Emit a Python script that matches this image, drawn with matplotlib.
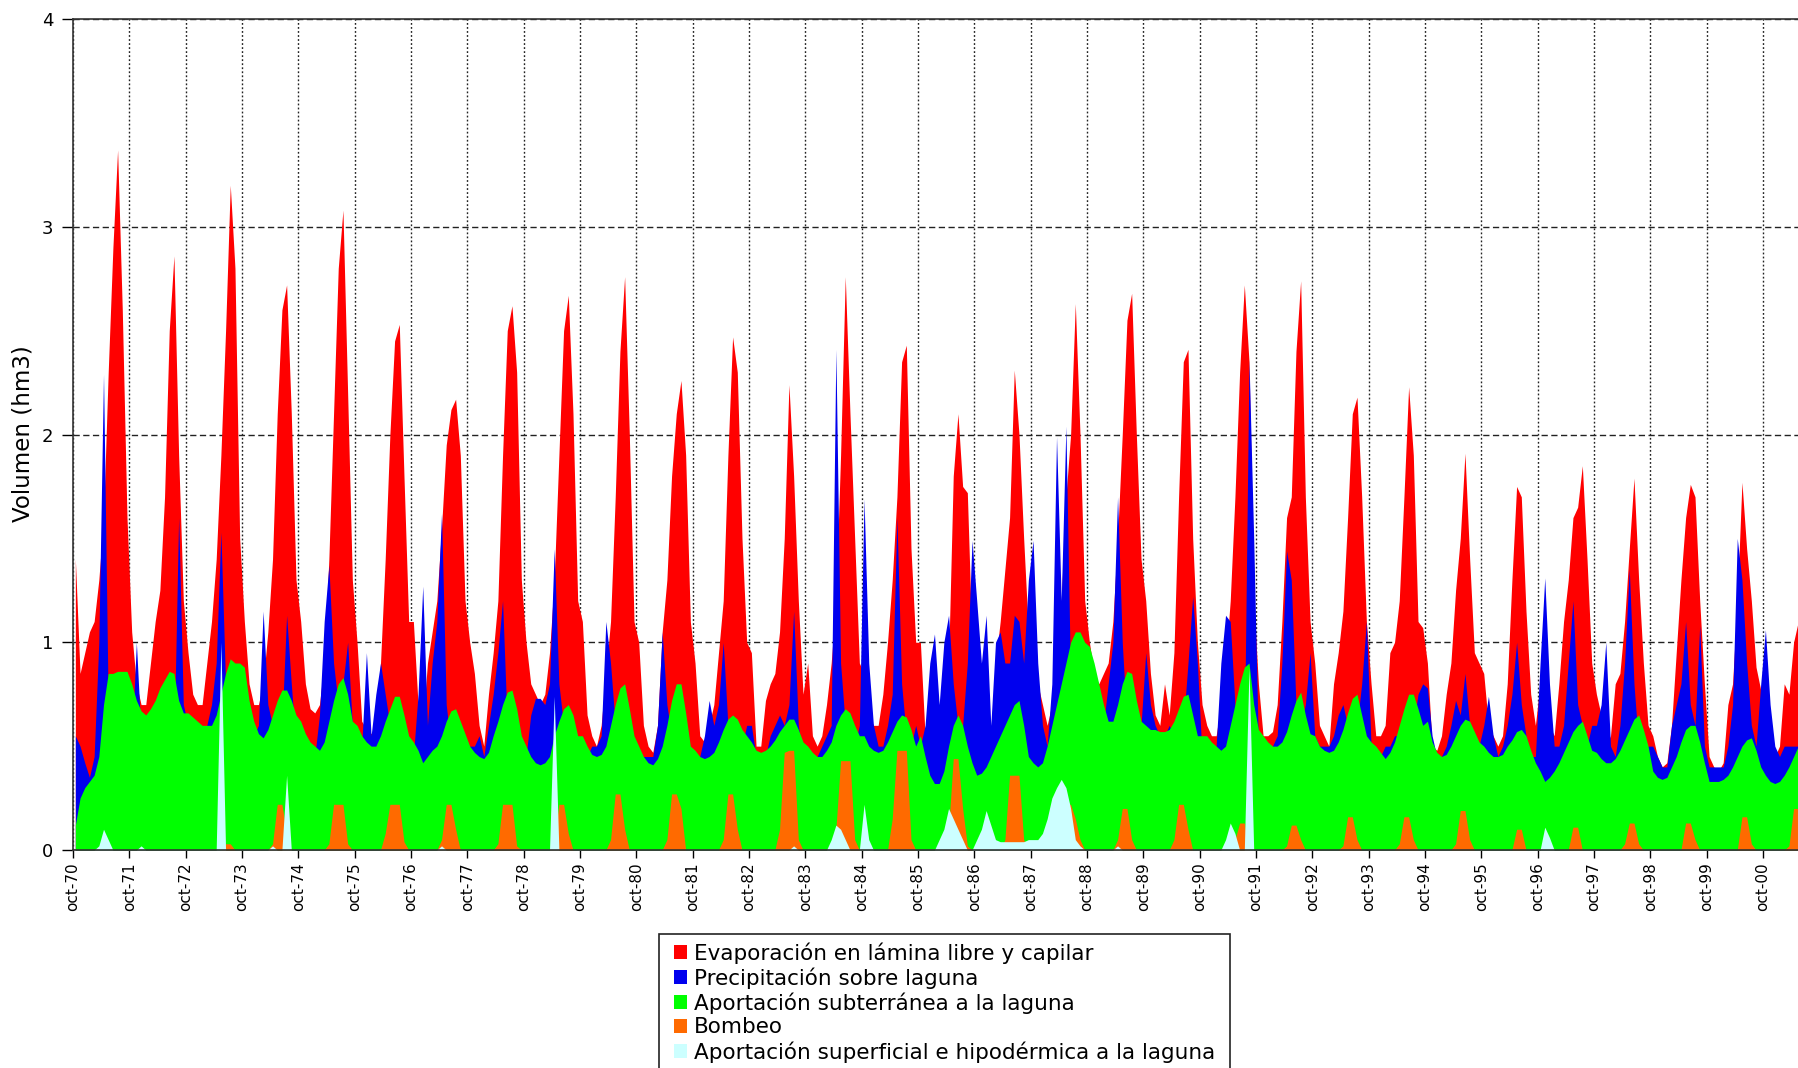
import numpy as np
import matplotlib
matplotlib.use("Agg")
import matplotlib.pyplot as plt
from matplotlib.patches import Patch, Rectangle

# Monthly volumes (hm3) per hydrological year, Oct..Sep, starting oct-1970
evaporacion = [
    1.40, 0.85, 0.95, 1.05, 1.10, 1.30, 1.60, 2.30, 2.90, 3.37, 2.60, 1.60,  # 70-71
    1.05, 0.80, 0.70, 0.70, 0.90, 1.10, 1.25, 1.70, 2.50, 2.86, 1.90, 1.20,  # 71-72
    0.95, 0.75, 0.70, 0.70, 0.90, 1.10, 1.40, 1.90, 2.50, 3.20, 2.80, 1.50,  # 72-73
    1.10, 0.80, 0.70, 0.70, 0.80, 1.05, 1.40, 2.10, 2.60, 2.72, 2.10, 1.30,  # 73-74
    1.10, 0.80, 0.68, 0.66, 0.70, 0.90, 1.40, 2.10, 2.80, 3.08, 2.20, 1.30,  # 74-75
    1.00, 0.62, 0.58, 0.56, 0.60, 0.90, 1.40, 2.00, 2.45, 2.53, 1.80, 1.10,  # 75-76
    1.10, 0.70, 0.60, 0.90, 1.05, 1.20, 1.55, 1.95, 2.12, 2.17, 1.90, 1.20,  # 76-77
    1.00, 0.85, 0.60, 0.50, 0.75, 0.95, 1.20, 1.90, 2.50, 2.62, 2.30, 1.30,  # 77-78
    1.00, 0.80, 0.75, 0.70, 0.75, 0.95, 1.30, 1.90, 2.50, 2.67, 2.10, 1.20,  # 78-79
    1.10, 0.65, 0.55, 0.50, 0.60, 0.85, 1.10, 1.70, 2.40, 2.76, 2.00, 1.10,  # 79-80
    1.00, 0.60, 0.50, 0.47, 0.60, 1.05, 1.30, 1.80, 2.10, 2.26, 1.90, 1.10,  # 80-81
    0.90, 0.55, 0.52, 0.60, 0.70, 0.95, 1.20, 1.90, 2.47, 2.30, 1.50, 1.00,  # 81-82
    0.95, 0.50, 0.50, 0.72, 0.80, 0.85, 1.05, 1.50, 2.24, 1.80, 1.20, 0.75,  # 82-83
    0.90, 0.55, 0.50, 0.55, 0.70, 0.90, 1.20, 1.90, 2.76, 2.10, 1.50, 0.90,  # 83-84
    0.85, 0.65, 0.60, 0.60, 0.75, 1.00, 1.30, 1.70, 2.35, 2.43, 1.45, 1.00,  # 84-85
    1.00, 0.55, 0.50, 0.50, 0.50, 0.55, 0.90, 1.80, 2.10, 1.75, 1.72, 1.00,  # 85-86
    1.00, 0.70, 0.60, 0.55, 0.90, 1.10, 1.35, 1.60, 2.31, 2.00, 1.50, 1.05,  # 86-87
    1.00, 0.80, 0.70, 0.60, 0.70, 0.95, 1.20, 1.70, 2.00, 2.63, 2.00, 1.20,  # 87-88
    1.00, 0.85, 0.80, 0.85, 0.90, 1.10, 1.50, 2.00, 2.55, 2.68, 2.00, 1.40,  # 88-89
    1.20, 0.85, 0.65, 0.60, 0.80, 0.65, 0.95, 1.70, 2.35, 2.41, 1.50, 1.00,  # 89-90
    0.70, 0.60, 0.55, 0.55, 0.70, 0.90, 1.20, 1.70, 2.30, 2.72, 2.35, 1.20,  # 90-91
    0.80, 0.55, 0.55, 0.57, 0.70, 1.10, 1.60, 1.70, 2.40, 2.74, 1.70, 1.10,  # 91-92
    0.90, 0.60, 0.55, 0.50, 0.80, 0.95, 1.15, 1.60, 2.10, 2.18, 1.70, 1.10,  # 92-93
    0.80, 0.55, 0.55, 0.60, 0.95, 1.00, 1.20, 1.70, 2.23, 1.90, 1.10, 1.07,  # 93-94
    0.90, 0.50, 0.48, 0.55, 0.75, 0.90, 1.25, 1.50, 1.91, 1.40, 0.95, 0.90,  # 94-95
    0.85, 0.60, 0.55, 0.50, 0.55, 0.80, 1.30, 1.75, 1.70, 1.15, 0.75, 0.60,  # 95-96
    0.80, 0.70, 0.60, 0.55, 0.80, 1.10, 1.30, 1.60, 1.65, 1.85, 1.40, 0.90,  # 96-97
    0.75, 0.65, 0.50, 0.55, 0.80, 0.85, 1.10, 1.45, 1.79, 1.30, 0.90, 0.60,  # 97-98
    0.55, 0.45, 0.40, 0.42, 0.60, 0.95, 1.30, 1.60, 1.76, 1.70, 1.20, 0.80,  # 98-99
    0.45, 0.40, 0.38, 0.42, 0.70, 0.80, 1.20, 1.77, 1.45, 1.20, 0.88, 0.77,  # 99-00
    0.75, 0.50, 0.45, 0.50, 0.80, 0.75, 1.00, 1.10, 1.60,                    # 00-01
]

precipitacion = [
    0.55, 0.50, 0.42, 0.35, 0.45, 1.00, 2.29, 0.70, 0.30, 0.20, 0.20, 0.30,  # 70-71
    0.50, 1.00, 0.55, 0.50, 0.55, 0.60, 0.75, 0.80, 0.55, 0.50, 1.60, 0.70,  # 71-72
    0.60, 0.55, 0.50, 0.55, 0.60, 0.70, 0.90, 1.53, 0.80, 0.50, 0.50, 0.50,  # 72-73
    0.50, 0.55, 0.55, 0.60, 1.15, 0.70, 0.60, 0.55, 0.60, 1.13, 0.80, 0.50,  # 73-74
    0.50, 0.50, 0.45, 0.45, 0.65, 1.10, 1.37, 0.90, 0.70, 0.80, 1.00, 0.60,  # 74-75
    0.45, 0.50, 0.95, 0.55, 0.75, 0.90, 0.75, 0.60, 0.50, 0.60, 0.60, 0.50,  # 75-76
    0.45, 0.75, 1.27, 0.60, 0.90, 1.10, 1.62, 0.70, 0.50, 0.50, 0.50, 0.50,  # 76-77
    0.50, 0.50, 0.55, 0.45, 0.60, 0.75, 0.95, 1.20, 0.60, 0.50, 0.50, 0.45,  # 77-78
    0.45, 0.65, 0.73, 0.73, 0.70, 0.80, 1.45, 0.80, 0.60, 0.50, 0.50, 0.50,  # 78-79
    0.40, 0.45, 0.50, 0.50, 0.55, 1.10, 0.90, 0.60, 0.50, 0.45, 0.45, 0.45,  # 79-80
    0.40, 0.45, 0.45, 0.45, 0.60, 1.05, 0.70, 0.55, 0.50, 0.50, 0.45, 0.45,  # 80-81
    0.40, 0.45, 0.55, 0.72, 0.60, 0.70, 1.00, 0.60, 0.50, 0.50, 0.50, 0.60,  # 81-82
    0.60, 0.45, 0.40, 0.45, 0.55, 0.60, 0.65, 0.60, 0.70, 1.15, 0.60, 0.45,  # 82-83
    0.45, 0.45, 0.45, 0.50, 0.55, 0.60, 2.41, 0.90, 0.60, 0.50, 0.50, 0.60,  # 83-84
    1.69, 0.90, 0.60, 0.50, 0.50, 0.60, 0.75, 1.60, 0.80, 0.55, 0.50, 0.60,  # 84-85
    0.50, 0.60, 0.90, 1.04, 0.70, 1.00, 1.13, 0.80, 0.60, 0.60, 0.90, 1.49,  # 85-86
    1.20, 0.90, 1.13, 0.60, 1.00, 1.05, 0.90, 0.90, 1.13, 1.10, 0.90, 1.30,  # 86-87
    1.49, 0.90, 0.60, 0.50, 0.80, 1.99, 1.20, 2.04, 0.80, 0.60, 0.50, 0.50,  # 87-88
    0.60, 0.55, 0.55, 0.60, 0.80, 1.00, 1.70, 1.00, 0.60, 0.55, 0.50, 0.60,  # 88-89
    0.95, 0.70, 0.60, 0.55, 0.55, 0.60, 0.55, 0.55, 0.60, 0.90, 1.22, 0.90,  # 89-90
    0.45, 0.45, 0.45, 0.50, 0.90, 1.13, 1.10, 0.70, 0.55, 0.50, 2.36, 1.50,  # 90-91
    0.50, 0.45, 0.45, 0.50, 0.55, 0.90, 1.44, 1.30, 0.70, 0.60, 0.70, 0.95,  # 91-92
    0.55, 0.50, 0.50, 0.50, 0.55, 0.65, 0.70, 0.60, 0.55, 0.60, 0.80, 1.10,  # 92-93
    0.50, 0.45, 0.45, 0.50, 0.50, 0.55, 0.55, 0.55, 0.55, 0.60, 0.75, 0.80,  # 93-94
    0.78, 0.55, 0.45, 0.45, 0.50, 0.60, 0.72, 0.65, 0.85, 0.60, 0.50, 0.50,  # 94-95
    0.60, 0.74, 0.55, 0.45, 0.50, 0.60, 0.75, 1.00, 0.70, 0.55, 0.45, 0.45,  # 95-96
    0.90, 1.31, 0.80, 0.50, 0.50, 0.60, 0.90, 1.20, 0.70, 0.60, 0.50, 0.60,  # 96-97
    0.60, 0.70, 1.00, 0.50, 0.45, 0.60, 0.90, 1.35, 0.80, 0.50, 0.45, 0.50,  # 97-98
    0.50, 0.45, 0.40, 0.40, 0.60, 0.70, 0.80, 1.10, 0.70, 0.60, 1.08, 0.50,  # 98-99
    0.40, 0.40, 0.40, 0.40, 0.50, 0.70, 1.50, 1.30, 0.90, 0.60, 0.50, 0.80,  # 99-00
    1.06, 0.70, 0.50, 0.45, 0.50, 0.50, 0.50, 0.50, 0.50,                    # 00-01
]

subterranea = [
    0.12, 0.25, 0.30, 0.33, 0.36, 0.45, 0.70, 0.85, 0.85, 0.86, 0.86, 0.86,  # 70-71
    0.80, 0.72, 0.67, 0.65, 0.68, 0.72, 0.78, 0.82, 0.86, 0.85, 0.72, 0.66,  # 71-72
    0.66, 0.64, 0.62, 0.60, 0.60, 0.60, 0.65, 0.75, 0.85, 0.92, 0.90, 0.90,  # 72-73
    0.88, 0.72, 0.62, 0.56, 0.54, 0.58, 0.65, 0.72, 0.77, 0.77, 0.72, 0.65,  # 73-74
    0.62, 0.56, 0.52, 0.50, 0.48, 0.52, 0.62, 0.72, 0.80, 0.83, 0.75, 0.62,  # 74-75
    0.60, 0.55, 0.52, 0.50, 0.50, 0.55, 0.62, 0.68, 0.74, 0.74, 0.65, 0.55,  # 75-76
    0.52, 0.48, 0.42, 0.45, 0.48, 0.50, 0.55, 0.62, 0.67, 0.68, 0.62, 0.56,  # 76-77
    0.50, 0.47, 0.45, 0.44, 0.47, 0.55, 0.62, 0.70, 0.76, 0.77, 0.68, 0.55,  # 77-78
    0.50, 0.45, 0.42, 0.41, 0.42, 0.45, 0.55, 0.62, 0.68, 0.70, 0.65, 0.55,  # 78-79
    0.55, 0.50, 0.46, 0.45, 0.46, 0.50, 0.60, 0.70, 0.78, 0.80, 0.68, 0.55,  # 79-80
    0.50, 0.45, 0.42, 0.41, 0.44, 0.50, 0.60, 0.72, 0.80, 0.80, 0.66, 0.50,  # 80-81
    0.48, 0.45, 0.44, 0.45, 0.47, 0.52, 0.58, 0.63, 0.65, 0.63, 0.58, 0.55,  # 81-82
    0.52, 0.48, 0.47, 0.48, 0.50, 0.53, 0.57, 0.60, 0.63, 0.63, 0.58, 0.52,  # 82-83
    0.50, 0.47, 0.45, 0.45, 0.48, 0.52, 0.60, 0.65, 0.68, 0.66, 0.60, 0.55,  # 83-84
    0.55, 0.50, 0.48, 0.47, 0.48, 0.52, 0.57, 0.62, 0.65, 0.64, 0.58, 0.50,  # 84-85
    0.55, 0.45, 0.36, 0.32, 0.32, 0.38, 0.50, 0.60, 0.65, 0.60, 0.50, 0.42,  # 85-86
    0.36, 0.37, 0.40, 0.45, 0.50, 0.55, 0.60, 0.65, 0.70, 0.72, 0.60, 0.45,  # 86-87
    0.42, 0.40, 0.42, 0.50, 0.60, 0.70, 0.80, 0.90, 1.00, 1.05, 1.05, 1.00,  # 87-88
    0.98, 0.90, 0.80, 0.70, 0.62, 0.62, 0.70, 0.80, 0.86, 0.85, 0.72, 0.62,  # 88-89
    0.60, 0.58, 0.58, 0.57, 0.57, 0.58, 0.62, 0.68, 0.74, 0.75, 0.65, 0.55,  # 89-90
    0.55, 0.55, 0.52, 0.50, 0.48, 0.50, 0.60, 0.70, 0.80, 0.88, 0.90, 0.70,  # 90-91
    0.58, 0.55, 0.52, 0.50, 0.50, 0.52, 0.57, 0.65, 0.72, 0.76, 0.65, 0.56,  # 91-92
    0.55, 0.50, 0.48, 0.47, 0.48, 0.52, 0.58, 0.66, 0.73, 0.75, 0.65, 0.55,  # 92-93
    0.52, 0.50, 0.47, 0.44, 0.47, 0.52, 0.60, 0.68, 0.75, 0.75, 0.68, 0.60,  # 93-94
    0.62, 0.52, 0.47, 0.45, 0.46, 0.50, 0.55, 0.60, 0.63, 0.62, 0.57, 0.52,  # 94-95
    0.50, 0.47, 0.45, 0.45, 0.46, 0.50, 0.53, 0.57, 0.58, 0.55, 0.48, 0.42,  # 95-96
    0.38, 0.33, 0.35, 0.38, 0.42, 0.47, 0.52, 0.57, 0.60, 0.62, 0.55, 0.48,  # 96-97
    0.47, 0.44, 0.42, 0.42, 0.44, 0.48, 0.53, 0.58, 0.63, 0.65, 0.58, 0.50,  # 97-98
    0.38, 0.35, 0.34, 0.35, 0.40, 0.45, 0.52, 0.58, 0.60, 0.60, 0.52, 0.42,  # 98-99
    0.33, 0.33, 0.33, 0.34, 0.36, 0.40, 0.45, 0.50, 0.53, 0.54, 0.48, 0.40,  # 99-00
    0.36, 0.33, 0.32, 0.33, 0.36, 0.40, 0.45, 0.50, 0.53,                    # 00-01
]

bombeo = [
    0.00, 0.00, 0.00, 0.00, 0.00, 0.00, 0.00, 0.00, 0.00, 0.00, 0.00, 0.00,  # 70-71
    0.00, 0.00, 0.00, 0.00, 0.00, 0.00, 0.00, 0.00, 0.00, 0.00, 0.00, 0.00,  # 71-72
    0.00, 0.00, 0.00, 0.00, 0.00, 0.00, 0.00, 0.00, 0.03, 0.03, 0.00, 0.00,  # 72-73
    0.00, 0.00, 0.00, 0.00, 0.00, 0.00, 0.03, 0.22, 0.22, 0.08, 0.00, 0.00,  # 73-74
    0.00, 0.00, 0.00, 0.00, 0.00, 0.00, 0.03, 0.22, 0.22, 0.22, 0.03, 0.00,  # 74-75
    0.00, 0.00, 0.00, 0.00, 0.00, 0.00, 0.08, 0.22, 0.22, 0.22, 0.04, 0.00,  # 75-76
    0.00, 0.00, 0.00, 0.00, 0.00, 0.00, 0.05, 0.22, 0.22, 0.10, 0.00, 0.00,  # 76-77
    0.00, 0.00, 0.00, 0.00, 0.00, 0.00, 0.03, 0.22, 0.22, 0.22, 0.02, 0.00,  # 77-78
    0.00, 0.00, 0.00, 0.00, 0.00, 0.00, 0.05, 0.22, 0.22, 0.08, 0.00, 0.00,  # 78-79
    0.00, 0.00, 0.00, 0.00, 0.00, 0.00, 0.05, 0.27, 0.27, 0.10, 0.00, 0.00,  # 79-80
    0.00, 0.00, 0.00, 0.00, 0.00, 0.00, 0.05, 0.27, 0.27, 0.20, 0.00, 0.00,  # 80-81
    0.00, 0.00, 0.00, 0.00, 0.00, 0.00, 0.05, 0.27, 0.27, 0.10, 0.00, 0.00,  # 81-82
    0.00, 0.00, 0.00, 0.00, 0.00, 0.00, 0.10, 0.47, 0.48, 0.48, 0.05, 0.00,  # 82-83
    0.00, 0.00, 0.00, 0.00, 0.00, 0.00, 0.10, 0.43, 0.43, 0.43, 0.05, 0.00,  # 83-84
    0.00, 0.00, 0.00, 0.00, 0.00, 0.00, 0.15, 0.48, 0.48, 0.48, 0.05, 0.00,  # 84-85
    0.00, 0.00, 0.00, 0.00, 0.00, 0.00, 0.10, 0.44, 0.44, 0.20, 0.02, 0.00,  # 85-86
    0.00, 0.00, 0.00, 0.00, 0.00, 0.00, 0.05, 0.36, 0.36, 0.36, 0.05, 0.00,  # 86-87
    0.00, 0.00, 0.00, 0.00, 0.00, 0.00, 0.05, 0.22, 0.22, 0.15, 0.05, 0.00,  # 87-88
    0.00, 0.00, 0.00, 0.00, 0.00, 0.00, 0.05, 0.20, 0.20, 0.05, 0.00, 0.00,  # 88-89
    0.00, 0.00, 0.00, 0.00, 0.00, 0.00, 0.05, 0.22, 0.22, 0.10, 0.00, 0.00,  # 89-90
    0.00, 0.00, 0.00, 0.00, 0.00, 0.00, 0.00, 0.05, 0.13, 0.13, 0.00, 0.00,  # 90-91
    0.00, 0.00, 0.00, 0.00, 0.00, 0.00, 0.02, 0.12, 0.12, 0.05, 0.00, 0.00,  # 91-92
    0.00, 0.00, 0.00, 0.00, 0.00, 0.00, 0.02, 0.16, 0.16, 0.05, 0.00, 0.00,  # 92-93
    0.00, 0.00, 0.00, 0.00, 0.00, 0.00, 0.03, 0.16, 0.16, 0.05, 0.00, 0.00,  # 93-94
    0.00, 0.00, 0.00, 0.00, 0.00, 0.00, 0.03, 0.19, 0.19, 0.05, 0.00, 0.00,  # 94-95
    0.00, 0.00, 0.00, 0.00, 0.00, 0.00, 0.00, 0.10, 0.10, 0.00, 0.00, 0.00,  # 95-96
    0.00, 0.00, 0.00, 0.00, 0.00, 0.00, 0.00, 0.11, 0.11, 0.00, 0.00, 0.00,  # 96-97
    0.00, 0.00, 0.00, 0.00, 0.00, 0.00, 0.03, 0.13, 0.13, 0.03, 0.00, 0.00,  # 97-98
    0.00, 0.00, 0.00, 0.00, 0.00, 0.00, 0.00, 0.13, 0.13, 0.05, 0.00, 0.00,  # 98-99
    0.00, 0.00, 0.00, 0.00, 0.00, 0.00, 0.00, 0.16, 0.16, 0.03, 0.00, 0.00,  # 99-00
    0.00, 0.00, 0.00, 0.00, 0.00, 0.02, 0.20, 0.20, 0.20,                    # 00-01
]

superficial = [
    0.00, 0.00, 0.00, 0.00, 0.00, 0.02, 0.10, 0.05, 0.00, 0.00, 0.00, 0.00,  # 70-71
    0.00, 0.00, 0.02, 0.00, 0.00, 0.00, 0.00, 0.00, 0.00, 0.00, 0.00, 0.00,  # 71-72
    0.00, 0.00, 0.00, 0.00, 0.00, 0.00, 0.00, 1.00, 0.00, 0.00, 0.00, 0.00,  # 72-73
    0.00, 0.00, 0.00, 0.00, 0.00, 0.00, 0.02, 0.00, 0.00, 0.36, 0.00, 0.00,  # 73-74
    0.00, 0.00, 0.00, 0.00, 0.00, 0.00, 0.00, 0.00, 0.00, 0.00, 0.00, 0.00,  # 74-75
    0.00, 0.00, 0.00, 0.00, 0.00, 0.00, 0.00, 0.00, 0.00, 0.00, 0.00, 0.00,  # 75-76
    0.00, 0.00, 0.00, 0.00, 0.00, 0.00, 0.02, 0.00, 0.00, 0.00, 0.00, 0.00,  # 76-77
    0.00, 0.00, 0.00, 0.00, 0.00, 0.00, 0.00, 0.00, 0.00, 0.00, 0.00, 0.00,  # 77-78
    0.00, 0.00, 0.00, 0.00, 0.00, 0.00, 0.74, 0.00, 0.00, 0.00, 0.00, 0.00,  # 78-79
    0.00, 0.00, 0.00, 0.00, 0.00, 0.00, 0.00, 0.00, 0.00, 0.00, 0.00, 0.00,  # 79-80
    0.00, 0.00, 0.00, 0.00, 0.00, 0.00, 0.00, 0.00, 0.00, 0.00, 0.00, 0.00,  # 80-81
    0.00, 0.00, 0.00, 0.00, 0.00, 0.00, 0.00, 0.00, 0.00, 0.00, 0.00, 0.00,  # 81-82
    0.00, 0.00, 0.00, 0.00, 0.00, 0.00, 0.00, 0.00, 0.00, 0.02, 0.00, 0.00,  # 82-83
    0.00, 0.00, 0.00, 0.00, 0.00, 0.05, 0.12, 0.10, 0.05, 0.00, 0.00, 0.00,  # 83-84
    0.22, 0.05, 0.00, 0.00, 0.00, 0.00, 0.00, 0.00, 0.00, 0.00, 0.00, 0.00,  # 84-85
    0.00, 0.00, 0.00, 0.00, 0.05, 0.10, 0.20, 0.15, 0.10, 0.05, 0.00, 0.00,  # 85-86
    0.05, 0.10, 0.19, 0.12, 0.05, 0.04, 0.04, 0.04, 0.04, 0.04, 0.04, 0.05,  # 86-87
    0.05, 0.05, 0.08, 0.15, 0.25, 0.30, 0.34, 0.30, 0.20, 0.05, 0.02, 0.00,  # 87-88
    0.00, 0.00, 0.00, 0.00, 0.00, 0.00, 0.02, 0.00, 0.00, 0.00, 0.00, 0.00,  # 88-89
    0.00, 0.00, 0.00, 0.00, 0.00, 0.00, 0.00, 0.00, 0.00, 0.00, 0.00, 0.00,  # 89-90
    0.00, 0.00, 0.00, 0.00, 0.00, 0.05, 0.13, 0.08, 0.00, 0.00, 0.88, 0.00,  # 90-91
    0.00, 0.00, 0.00, 0.00, 0.00, 0.00, 0.00, 0.00, 0.00, 0.00, 0.00, 0.00,  # 91-92
    0.00, 0.00, 0.00, 0.00, 0.00, 0.00, 0.00, 0.00, 0.00, 0.00, 0.00, 0.00,  # 92-93
    0.00, 0.00, 0.00, 0.00, 0.00, 0.00, 0.00, 0.00, 0.00, 0.00, 0.00, 0.00,  # 93-94
    0.00, 0.00, 0.00, 0.00, 0.00, 0.00, 0.00, 0.00, 0.00, 0.00, 0.00, 0.00,  # 94-95
    0.00, 0.00, 0.00, 0.00, 0.00, 0.00, 0.00, 0.00, 0.00, 0.00, 0.00, 0.00,  # 95-96
    0.00, 0.11, 0.06, 0.00, 0.00, 0.00, 0.00, 0.00, 0.00, 0.00, 0.00, 0.00,  # 96-97
    0.00, 0.00, 0.00, 0.00, 0.00, 0.00, 0.00, 0.00, 0.00, 0.00, 0.00, 0.00,  # 97-98
    0.00, 0.00, 0.00, 0.00, 0.00, 0.00, 0.00, 0.00, 0.00, 0.00, 0.00, 0.00,  # 98-99
    0.00, 0.00, 0.00, 0.00, 0.00, 0.00, 0.00, 0.00, 0.00, 0.00, 0.00, 0.00,  # 99-00
    0.00, 0.00, 0.00, 0.00, 0.00, 0.00, 0.00, 0.00, 0.00,                    # 00-01
]

anios = ["70", "71", "72", "73", "74", "75", "76", "77", "78", "79",
         "80", "81", "82", "83", "84", "85", "86", "87", "88", "89",
         "90", "91", "92", "93", "94", "95", "96", "97", "98", "99", "00"]

series = [
    ("Evaporación en lámina libre y capilar", evaporacion, "#ff0000"),
    ("Precipitación sobre laguna", precipitacion, "#0000ee"),
    ("Aportación subterránea a la laguna", subterranea, "#00ff00"),
    ("Bombeo", bombeo, "#ff6a00"),
    ("Aportación superficial e hipodérmica a la laguna", superficial, "#ccffff"),
]

inicio = 1970 + 9 / 12  # 1 Oct 1970
n = len(evaporacion)
t = inicio + (np.arange(n) + 0.5) / 12
ticks = inicio + np.arange(len(anios))

plt.rcParams["font.family"] = ["DejaVu Sans"]

W, H = 1798, 1068
fig = plt.figure(figsize=(W / 100, H / 100), dpi=100)
ax = fig.add_axes([73 / W, 1 - 850 / H, 1 - 73 / W, (850 - 19) / H])

# Overlapping (not stacked) areas, drawn back to front
for nombre, valores, color in series:
    ax.fill_between(t, 0, valores, color=color, linewidth=0, zorder=2)

ax.set_xlim(inicio, inicio + 30.62)
ax.set_ylim(0, 4)
ax.set_yticks([0, 1, 2, 3, 4])
ax.set_xticks(ticks)
ax.set_xticklabels(["oct-" + a for a in anios], rotation=90, fontsize=11)
ax.tick_params(axis="y", labelsize=13, length=8, width=1, direction="out", pad=6)
ax.tick_params(axis="x", length=6, width=1, direction="out", pad=3)

ax.set_axisbelow(True)
ax.xaxis.grid(True, linestyle=(0, (1.3, 1.6)), color="#222222", linewidth=1.0)
ax.yaxis.grid(True, linestyle=(0, (4.5, 2.5)), color="#222222", linewidth=1.0)

for lado in ("left", "bottom", "top"):
    ax.spines[lado].set_color("#333333")
    ax.spines[lado].set_linewidth(1.2)
ax.spines["right"].set_visible(False)

fig.text(23 / W, 1 - 434 / H, "Volumen (hm3)", rotation=90,
         ha="center", va="center", fontsize=16.5)

# Legend box (runs past the lower edge of the figure)
marco = Rectangle((659 / W, -10 / H), (1230 - 659) / W, (1068 + 10 - 934) / H,
                  transform=fig.transFigure, facecolor="white",
                  edgecolor="#222222", linewidth=1.2, clip_on=False, zorder=1)
fig.add_artist(marco)

handles = [Patch(facecolor=c, edgecolor="none", label=nm) for nm, _, c in series]
leg = fig.legend(handles=handles, loc="upper left",
                 bbox_to_anchor=(674 / W, 1 - 942 / H),
                 bbox_transform=fig.transFigure, fontsize=15.5,
                 handlelength=0.62, handleheight=0.62, handletextpad=0.3,
                 labelspacing=0.17, borderpad=0, borderaxespad=0,
                 frameon=False)
leg.set_zorder(3)

fig.savefig("out.png", dpi=100)
